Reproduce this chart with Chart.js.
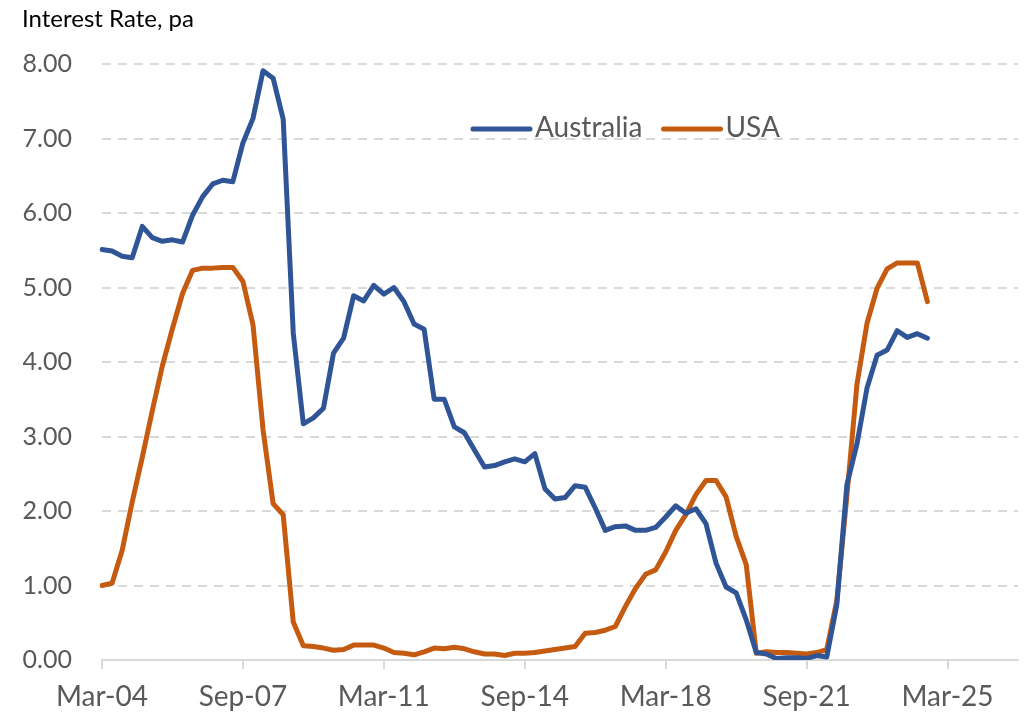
<!DOCTYPE html>
<html>
<head>
<meta charset="utf-8">
<script src="https://cdn.jsdelivr.net/npm/chart.js@4.4.1/dist/chart.umd.min.js"></script>
<style>
  html, body { margin: 0; padding: 0; background: #ffffff; }
  #wrap { width: 1026px; height: 721px; position: relative; }
</style>
</head>
<body>
<div id="wrap"><canvas id="c" width="1026" height="721"></canvas></div>
<script>
const quarters = [
  'Mar-04','Jun-04','Sep-04','Dec-04','Mar-05','Jun-05','Sep-05','Dec-05',
  'Mar-06','Jun-06','Sep-06','Dec-06','Mar-07','Jun-07','Sep-07','Dec-07',
  'Mar-08','Jun-08','Sep-08','Dec-08','Mar-09','Jun-09','Sep-09','Dec-09',
  'Mar-10','Jun-10','Sep-10','Dec-10','Mar-11','Jun-11','Sep-11','Dec-11',
  'Mar-12','Jun-12','Sep-12','Dec-12','Mar-13','Jun-13','Sep-13','Dec-13',
  'Mar-14','Jun-14','Sep-14','Dec-14','Mar-15','Jun-15','Sep-15','Dec-15',
  'Mar-16','Jun-16','Sep-16','Dec-16','Mar-17','Jun-17','Sep-17','Dec-17',
  'Mar-18','Jun-18','Sep-18','Dec-18','Mar-19','Jun-19','Sep-19','Dec-19',
  'Mar-20','Jun-20','Sep-20','Dec-20','Mar-21','Jun-21','Sep-21','Dec-21',
  'Mar-22','Jun-22','Sep-22','Dec-22','Mar-23','Jun-23','Sep-23','Dec-23',
  'Mar-24','Jun-24','Sep-24','Dec-24','Mar-25','Jun-25','Sep-25','Dec-25',
  'Mar-26','Jun-26','Sep-26','Dec-26'
];

const australia = [
  5.51, 5.49, 5.42, 5.40, 5.82, 5.67, 5.62, 5.64, 5.61, 5.97,
  6.22, 6.39, 6.44, 6.42, 6.94, 7.27, 7.91, 7.81, 7.26, 4.39,
  3.17, 3.25, 3.38, 4.12, 4.32, 4.89, 4.82, 5.03, 4.91, 5.00,
  4.81, 4.51, 4.44, 3.50, 3.50, 3.13, 3.05, 2.82, 2.59, 2.61,
  2.66, 2.70, 2.66, 2.77, 2.30, 2.16, 2.18, 2.34, 2.32, 2.04,
  1.74, 1.79, 1.80, 1.74, 1.74, 1.78, 1.92, 2.07, 1.97, 2.03,
  1.83, 1.30, 0.98, 0.90, 0.54, 0.10, 0.08, 0.02, 0.03, 0.03,
  0.02, 0.06, 0.04, 0.74, 2.35, 2.90, 3.65, 4.09, 4.16, 4.42,
  4.33, 4.38, 4.32
];

const usa = [
  1.00, 1.03, 1.47, 2.12, 2.72, 3.35, 3.95, 4.45, 4.92, 5.23,
  5.26, 5.26, 5.27, 5.27, 5.08, 4.50, 3.09, 2.10, 1.95, 0.51,
  0.19, 0.18, 0.16, 0.13, 0.14, 0.20, 0.20, 0.20, 0.16, 0.10,
  0.09, 0.07, 0.11, 0.16, 0.15, 0.17, 0.15, 0.11, 0.08, 0.08,
  0.06, 0.09, 0.09, 0.10, 0.12, 0.14, 0.16, 0.18, 0.36, 0.37,
  0.40, 0.45, 0.72, 0.96, 1.15, 1.21, 1.45, 1.74, 1.95, 2.22,
  2.41, 2.41, 2.19, 1.66, 1.28, 0.09, 0.11, 0.10, 0.10, 0.09,
  0.08, 0.10, 0.14, 0.80, 2.20, 3.70, 4.52, 4.99, 5.25, 5.33,
  5.33, 5.33, 4.81
];

const seriesNames = ['Australia', 'USA'];
const seriesColors = ['#2F5597', '#C55A11'];
const yTickValues = [0, 1, 2, 3, 4, 5, 6, 7, 8];
const xLabelEvery = 14;
const titleText = 'Interest Rate, pa';

const FONT = "Lato, 'Open Sans', sans-serif";
const GRAY = '#595959';

const insideLegend = {
  id: 'insideLegend',
  afterDatasetsDraw(chart) {
    const ctx = chart.ctx;
    ctx.save();
    ctx.font = '28px ' + FONT;
    ctx.textBaseline = 'middle';
    ctx.textAlign = 'left';
    let x = 473;
    const y = 129;
    chart.data.datasets.forEach((ds) => {
      ctx.strokeStyle = ds.borderColor;
      ctx.lineWidth = 5;
      ctx.lineCap = 'round';
      ctx.beginPath();
      ctx.moveTo(x, y);
      ctx.lineTo(x + 57, y);
      ctx.stroke();
      ctx.fillStyle = GRAY;
      ctx.fillText(ds.label, x + 62, y - 1);
      x += 62 + ctx.measureText(ds.label).width + 21;
    });
    ctx.restore();
  }
};

new Chart(document.getElementById('c'), {
  type: 'line',
  data: {
    labels: quarters,
    datasets: [
      {
        label: seriesNames[0],
        data: australia,
        borderColor: seriesColors[0],
        backgroundColor: seriesColors[0],
        borderWidth: 5,
        pointRadius: 0,
        tension: 0,
        borderJoinStyle: 'round',
        borderCapStyle: 'round',
        fill: false
      },
      {
        label: seriesNames[1],
        data: usa,
        borderColor: seriesColors[1],
        backgroundColor: seriesColors[1],
        borderWidth: 5,
        pointRadius: 0,
        tension: 0,
        borderJoinStyle: 'round',
        borderCapStyle: 'round',
        fill: false
      }
    ]
  },
  options: {
    responsive: false,
    animation: false,
    devicePixelRatio: 1,
    layout: { padding: { left: 22, right: 8, top: 0, bottom: 0 } },
    plugins: {
      legend: { display: false },
      tooltip: { enabled: false },
      title: {
        display: true,
        text: titleText,
        align: 'start',
        color: '#000000',
        font: { family: FONT, size: 24, weight: 'normal' },
        padding: { top: 5, bottom: 30.2 }
      }
    },
    scales: {
      x: {
        type: 'category',
        offset: false,
        afterBuildTicks(scale) {
          scale.ticks = scale.ticks.filter(t => t.value % xLabelEvery === 0);
        },
        afterFit(scale) { scale.height = 61; },
        ticks: {
          autoSkip: false,
          maxRotation: 0,
          minRotation: 0,
          color: GRAY,
          padding: 11,
          font: { family: FONT, size: 28 }
        },
        grid: {
          drawOnChartArea: false,
          drawTicks: true,
          tickLength: 9,
          color: '#D9D9D9',
          lineWidth: 2
        },
        border: { display: true, color: '#D9D9D9', width: 2 }
      },
      y: {
        min: 0,
        max: 8,
        afterBuildTicks(scale) {
          scale.ticks = yTickValues.map(v => ({ value: v }));
        },
        afterFit(scale) { scale.width = 80; },
        ticks: {
          color: GRAY,
          padding: 30,
          font: { family: FONT, size: 25 },
          callback: v => Number(v).toFixed(2)
        },
        grid: {
          drawTicks: false,
          color: '#D9D9D9',
          lineWidth: 2
        },
        border: { display: false, dash: [9, 7] }
      }
    }
  },
  plugins: [insideLegend]
});
</script>
</body>
</html>
